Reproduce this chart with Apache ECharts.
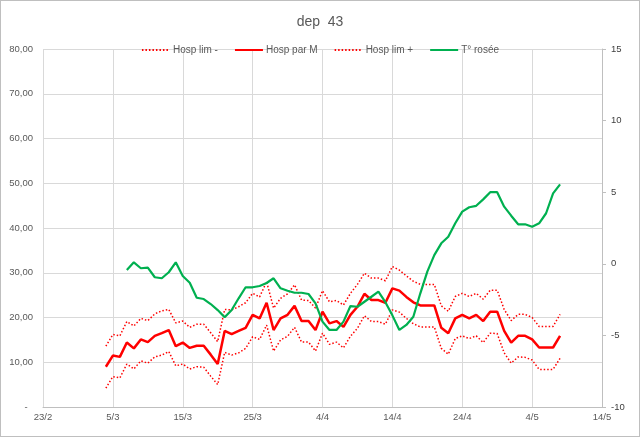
<!DOCTYPE html>
<html><head><meta charset="utf-8">
<script src="https://cdn.jsdelivr.net/npm/echarts@6/dist/echarts.min.js"></script>
<style>
html,body{margin:0;padding:0;background:#fff}
#wrap{position:relative;width:640px;height:437px}
#c{position:absolute;left:0;top:0;width:640px;height:437px}
#frame{position:absolute;left:0;top:0;width:640px;height:437px;box-sizing:border-box;border:1px solid #bfbfbf;pointer-events:none}
</style>
</head><body>
<div id="wrap"><div id="c"></div><div id="frame"></div></div>
<script>
// ---- data ----
const axisStart = '2021-02-23';
const axisEnd = '2021-05-14';
const xTickDays = 10;
const leftTicks = [0, 80, 10];   // min, max, interval
const rightTicks = [-10, 15, 5];
const hospStart = '2021-03-04';   // first day of hospital series
const roseeStart = '2021-03-07';  // first day of dew-point series
const seriesNames = ['Hosp lim -', 'Hosp par M', 'Hosp lim +', 'T° rosée'];

const hospParM = [9.0, 11.5, 11.2, 14.4, 13.1, 15.1, 14.5, 15.9, 16.5, 17.2,
  13.6, 14.4, 13.2, 13.7, 13.7, 11.7, 9.6, 17.0, 16.3, 17.0,
  17.7, 20.6, 19.8, 23.3, 17.2, 19.8, 20.6, 22.6, 19.2, 19.2,
  17.2, 21.3, 18.7, 19.2, 17.9, 20.6, 22.4, 25.3, 23.9, 23.9,
  23.3, 26.5, 26.0, 24.6, 23.4, 22.7, 22.7, 22.7, 17.7, 16.5,
  19.8, 20.6, 19.8, 20.6, 19.2, 21.3, 21.3, 17.0, 14.4, 15.9,
  15.9, 15.1, 13.3, 13.3, 13.3, 15.9];

const hospLimPlus = [13.6, 16.2, 15.9, 19.1, 18.1, 19.8, 19.3, 20.8, 21.5, 21.8,
  18.8, 19.2, 17.8, 18.5, 18.5, 16.6, 14.6, 21.8, 21.7, 22.4,
  23.3, 25.4, 24.6, 28.0, 22.1, 24.3, 25.3, 27.3, 23.9, 23.8,
  22.1, 26.0, 23.5, 23.8, 22.8, 25.4, 27.4, 29.9, 28.8, 28.8,
  28.2, 31.4, 30.6, 29.3, 28.1, 27.4, 27.4, 27.4, 22.6, 21.4,
  24.7, 25.4, 24.7, 25.4, 24.1, 26.1, 26.1, 21.8, 19.3, 20.7,
  20.7, 20.0, 18.0, 18.0, 18.0, 20.7];

const hospLimMinus = [4.2, 6.8, 6.5, 9.6, 8.5, 10.3, 9.8, 11.2, 11.6, 12.4,
  9.2, 9.6, 8.5, 9.0, 8.9, 6.9, 5.0, 12.2, 11.6, 12.1,
  13.1, 15.7, 15.1, 18.3, 12.5, 15.0, 15.8, 17.8, 14.5, 14.5,
  12.5, 16.5, 14.0, 14.5, 13.2, 15.8, 17.6, 20.4, 19.1, 19.1,
  18.5, 21.7, 21.2, 19.8, 18.6, 17.9, 17.9, 17.9, 13.1, 11.8,
  15.3, 15.9, 15.3, 15.9, 14.4, 16.5, 16.4, 12.1, 9.8, 11.2,
  11.1, 10.5, 8.4, 8.4, 8.4, 10.9];

const tRosee = [-0.43, 0.1, -0.31, -0.27, -0.94, -1.01, -0.59, 0.1, -0.85, -1.32,
  -2.37, -2.46, -2.81, -3.23, -3.74, -3.23, -2.41, -1.64, -1.64, -1.55,
  -1.34, -1.01, -1.71, -1.88, -2.02, -2.02, -2.11, -2.76, -4.04, -4.62,
  -4.62, -4.04, -2.95, -3.0, -2.65, -2.3, -1.95, -2.68, -3.6, -4.62,
  -4.27, -3.7, -2.06, -0.55, 0.61, 1.43, 1.89, 2.83, 3.64, 3.95,
  4.05, 4.5, 5.0, 5.0, 3.99, 3.36, 2.76, 2.76, 2.59, 2.83,
  3.53, 4.92, 5.55];

// ---- helpers ----
const DAY = 86400000;
const origin = Date.parse(axisStart + 'T00:00:00Z');
const toX = s => (Date.parse(s + 'T00:00:00Z') - origin) / DAY;
const pts = (start, arr) => { const x0 = toX(start); return arr.map((v, i) => [x0 + i, v]); };
const fmtDate = v => { const d = new Date(origin + v * DAY); return d.getUTCDate() + '/' + (d.getUTCMonth() + 1); };

const FONT = "'Liberation Sans', Arial, sans-serif";
const TXT = '#595959';
const GRID = '#d9d9d9';

const chart = echarts.init(document.getElementById('c'), null, {renderer: 'canvas'});
chart.setOption({
  animation: false,
  backgroundColor: '#ffffff',
  textStyle: {fontFamily: FONT},
  title: {text: 'dep  43', left: 'center', top: 10,
    textStyle: {color: TXT, fontSize: 14, fontWeight: 'normal', fontFamily: FONT}},
  legend: {top: 40, left: 'center', itemWidth: 28, itemHeight: 10, itemGap: 16,
    itemStyle: {opacity: 0},
    textStyle: {color: TXT, fontSize: 10, fontFamily: FONT, padding: [0, 0, 0, -2]},
    data: seriesNames},
  grid: {left: 43, right: 38, top: 49, bottom: 30, containLabel: false},
  xAxis: {type: 'value', min: toX(axisStart), max: toX(axisEnd), interval: xTickDays,
    axisLine: {show: true, lineStyle: {color: '#bfbfbf', width: 1}},
    axisTick: {show: false},
    splitLine: {show: true, lineStyle: {color: GRID, width: 1}},
    axisLabel: {color: TXT, fontSize: 9.5, margin: 5, formatter: fmtDate, fontFamily: FONT}},
  yAxis: [
    {type: 'value', min: leftTicks[0], max: leftTicks[1], interval: leftTicks[2], position: 'left',
      axisLine: {show: false}, axisTick: {show: false},
      splitLine: {show: true, lineStyle: {color: GRID, width: 1}},
      axisLabel: {color: TXT, fontSize: 9.5, margin: 10, fontFamily: FONT,
        formatter: v => v === 0 ? '-  ' : v.toFixed(2).replace('.', ',')}},
    {type: 'value', min: rightTicks[0], max: rightTicks[1], interval: rightTicks[2], position: 'right',
      axisLine: {show: true, lineStyle: {color: '#bfbfbf', width: 1}},
      axisTick: {show: true, inside: false, length: 4, lineStyle: {color: '#bfbfbf'}},
      splitLine: {show: false},
      axisLabel: {color: '#404040', fontSize: 9.5, margin: 9, fontFamily: FONT}}
  ],
  series: [
    {name: seriesNames[0], type: 'line', yAxisIndex: 0, symbol: 'none', data: pts(hospStart, hospLimMinus),
      lineStyle: {color: '#ff0000', width: 1.5, type: [1.5, 2]}, itemStyle: {color: '#ff0000'}},
    {name: seriesNames[1], type: 'line', yAxisIndex: 0, symbol: 'none', data: pts(hospStart, hospParM),
      lineStyle: {color: '#ff0000', width: 2.5}, itemStyle: {color: '#ff0000'}},
    {name: seriesNames[2], type: 'line', yAxisIndex: 0, symbol: 'none', data: pts(hospStart, hospLimPlus),
      lineStyle: {color: '#ff0000', width: 1.5, type: [1.5, 2]}, itemStyle: {color: '#ff0000'}},
    {name: seriesNames[3], type: 'line', yAxisIndex: 1, symbol: 'none', data: pts(roseeStart, tRosee),
      lineStyle: {color: '#00b050', width: 2.2}, itemStyle: {color: '#00b050'}}
  ]
});
</script>
</body></html>
